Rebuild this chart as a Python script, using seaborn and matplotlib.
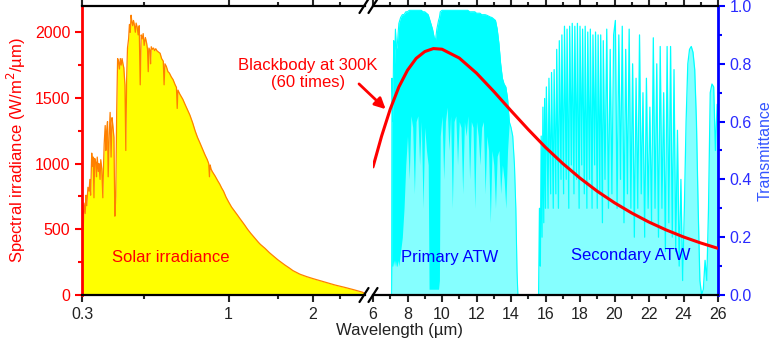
import matplotlib
matplotlib.use("Agg")
import matplotlib.pyplot as plt
from matplotlib.lines import Line2D
from matplotlib.ticker import FixedLocator, MultipleLocator, NullFormatter, FormatStrFormatter
import seaborn as sns

# solar spectrum (left, log x)
solar_wl = [0.300, 0.302, 0.303, 0.305, 0.308, 0.310, 0.312, 0.315, 0.318, 0.320,
            0.322, 0.325, 0.327, 0.329, 0.331, 0.333, 0.336, 0.338, 0.340, 0.343,
            0.345, 0.348, 0.350, 0.353, 0.356, 0.358, 0.360, 0.363, 0.365, 0.367,
            0.370, 0.372, 0.375, 0.378, 0.381, 0.384, 0.387, 0.390, 0.393, 0.396,
            0.399, 0.402, 0.405, 0.408, 0.411, 0.414, 0.417, 0.420, 0.423, 0.427,
            0.430, 0.433, 0.436, 0.440, 0.443, 0.446, 0.449, 0.452, 0.455, 0.458,
            0.461, 0.465, 0.468, 0.472, 0.476, 0.480, 0.484, 0.488, 0.492, 0.496,
            0.500, 0.505, 0.510, 0.514, 0.517, 0.520, 0.525, 0.527, 0.530, 0.535,
            0.540, 0.545, 0.550, 0.555, 0.562, 0.570, 0.577, 0.585, 0.589, 0.593,
            0.600, 0.608, 0.615, 0.625, 0.634, 0.645, 0.652, 0.656, 0.660, 0.670,
            0.687, 0.700, 0.714, 0.728, 0.745, 0.760, 0.775, 0.790, 0.808, 0.825,
            0.840, 0.850, 0.855, 0.860, 0.866, 0.875, 0.896, 0.915, 0.930, 0.945,
            0.960, 0.980, 1.000, 1.025, 1.050, 1.075, 1.100, 1.140, 1.170, 1.200,
            1.250, 1.280, 1.300, 1.350, 1.400, 1.450, 1.500, 1.550, 1.590, 1.650,
            1.700, 1.800, 1.900, 2.000, 2.100, 2.200, 2.300, 2.400, 2.600, 2.800,
            3.000, 3.070]
solar_irr = [560, 650, 500, 700, 620, 760, 680, 820, 790, 880,
             760, 1080, 980, 1050, 740, 1040, 1010, 900, 1050, 940,
             1000, 880, 1030, 960, 740, 980, 1150, 1290, 1100, 1240,
             1320, 900, 1200, 1390, 1050, 1350, 1280, 1200, 600, 750,
             1400, 1800, 1780, 1720, 1800, 1750, 1800, 1760, 1730, 1600,
             1100, 1650, 1880, 1950, 2060, 2000, 2130, 2080, 2050, 2090,
             2060, 2000, 2070, 2040, 1980, 2050, 1600, 1980, 1950, 1990,
             1900, 1960, 1920, 1870, 1700, 1880, 1860, 1760, 1890, 1870,
             1880, 1860, 1875, 1860, 1850, 1840, 1800, 1780, 1600, 1760,
             1740, 1700, 1690, 1660, 1640, 1600, 1580, 1420, 1560, 1530,
             1490, 1450, 1410, 1370, 1310, 1250, 1200, 1160, 1110, 1065,
             1030, 1000, 900, 990, 960, 940, 905, 870, 845, 815,
             790, 745, 710, 670, 640, 610, 580, 535, 500, 470,
             425, 400, 385, 355, 322, 295, 268, 245, 228, 205,
             185, 158, 140, 125, 112, 100, 88, 76, 58, 40,
             22, 12]

# atmospheric transmittance, primary window:
# upper envelope and lower edge of the dense band of absorption lines
prim_wl = [6.0, 7.0, 7.08, 7.1, 7.15, 7.2, 7.25, 7.3, 7.35, 7.4, 7.45, 7.5, 7.6, 7.7, 7.8, 7.9, 7.95,
           8.0, 8.1, 8.2, 8.3, 8.4, 8.5, 8.6, 8.7, 8.8, 8.9, 9.0, 9.1, 9.2,
           9.25, 9.35, 9.45, 9.55, 9.62, 9.7, 9.8, 9.85,
           9.9, 10.0, 10.1, 10.2, 10.3, 10.4, 10.5, 10.6, 10.7, 10.8, 10.9, 11.0, 11.1, 11.2, 11.3, 11.4, 11.5,
           11.6, 11.7, 11.8, 11.9, 12.0, 12.1, 12.2, 12.3, 12.4, 12.5, 12.6, 12.7, 12.8, 12.9,
           13.0, 13.1, 13.2, 13.3, 13.4, 13.5, 13.6, 13.7, 13.8, 13.9, 14.0, 14.1, 14.2, 14.28, 14.35, 14.4, 15.6]
prim_hi = [0, 0, 0, 0.75, 0.6, 0.88, 0.8, 0.92, 0.85, 0.86, 0.9, 0.94, 0.96, 0.97, 0.97, 0.98, 0.98,
           0.98, 0.985, 0.985, 0.985, 0.985, 0.985, 0.985, 0.985, 0.985, 0.98, 0.98, 0.975, 0.97,
           0.96, 0.94, 0.92, 0.89, 0.88, 0.92, 0.95, 0.96,
           0.98, 0.985, 0.985, 0.985, 0.985, 0.985, 0.985, 0.985, 0.985, 0.985, 0.985, 0.985, 0.985, 0.985, 0.985, 0.985, 0.985,
           0.98, 0.98, 0.98, 0.98, 0.975, 0.975, 0.975, 0.97, 0.97, 0.97, 0.968, 0.965, 0.962, 0.96,
           0.955, 0.95, 0.92, 0.87, 0.8, 0.75, 0.73, 0.72, 0.68, 0.6, 0.58, 0.55, 0.45, 0.3, 0.08, 0, 0]
prim_lo = [0, 0, 0, 0.1, 0.1, 0.12, 0.1, 0.12, 0.1, 0.1, 0.12, 0.1, 0.15, 0.2, 0.3, 0.45, 0.5,
           0.55, 0.4, 0.62, 0.58, 0.35, 0.6, 0.62, 0.45, 0.6, 0.3, 0.58, 0.5, 0.45,
           0.02, 0.02, 0.02, 0.02, 0.02, 0.02, 0.02, 0.05,
           0.55, 0.62, 0.4, 0.6, 0.65, 0.5, 0.62, 0.3, 0.6, 0.62, 0.45, 0.6, 0.58, 0.35, 0.6, 0.55, 0.62,
           0.4, 0.6, 0.58, 0.3, 0.6, 0.55, 0.45, 0.58, 0.6, 0.35, 0.55, 0.5, 0.25, 0.5,
           0.45, 0.3, 0.48, 0.5, 0.35, 0.45, 0.4, 0.3, 0.5, 0.6, 0.58, 0.55, 0.45, 0.3, 0.08, 0, 0]

# secondary window: individual absorption lines
sec_wl = [15.6, 15.65, 15.7, 15.75, 15.8, 15.85, 15.9, 15.95, 16.0, 16.05, 16.15,
          16.2, 16.3, 16.35, 16.45, 16.5, 16.6, 16.65, 16.75, 16.8, 16.9, 16.95,
          17.05, 17.1, 17.2, 17.25, 17.35, 17.4, 17.5, 17.55, 17.65, 17.7, 17.8,
          17.85, 17.95, 18.0, 18.1, 18.15, 18.25, 18.3, 18.4, 18.45, 18.55, 18.6,
          18.7, 18.75, 18.85, 18.9, 19.0, 19.05, 19.15, 19.2, 19.3, 19.35, 19.45,
          19.55, 19.65, 19.75, 19.85, 19.95, 20.05, 20.15, 20.25, 20.35, 20.45,
          20.55, 20.65, 20.75, 20.85, 20.95, 21.05, 21.15, 21.25, 21.35, 21.45,
          21.55, 21.65, 21.75, 21.85, 21.95, 22.05, 22.15, 22.25, 22.35, 22.45,
          22.55, 22.65, 22.75, 22.85, 22.95, 23.05, 23.15, 23.25, 23.35, 23.45,
          23.55, 23.65, 23.75, 23.85, 23.95, 24.05, 24.15, 24.25, 24.35, 24.45,
          24.55, 24.65, 24.75, 24.85, 24.95, 25.05, 25.15, 25.25, 25.35, 25.45,
          25.55, 25.65, 25.75, 25.85, 25.95, 26.0]
sec_val = [0.0, 0.3, 0.1, 0.55, 0.2, 0.65, 0.25, 0.68, 0.3, 0.72, 0.3,
           0.75, 0.35, 0.77, 0.3, 0.78, 0.35, 0.85, 0.3, 0.88, 0.4, 0.9,
           0.35, 0.93, 0.4, 0.92, 0.3, 0.93, 0.45, 0.94, 0.35, 0.93, 0.4,
           0.94, 0.3, 0.93, 0.45, 0.92, 0.35, 0.93, 0.3, 0.91, 0.4, 0.92,
           0.3, 0.9, 0.45, 0.91, 0.3, 0.9, 0.35, 0.9, 0.25, 0.88, 0.4,
           0.92, 0.3, 0.85, 0.35, 0.9, 0.95, 0.3, 0.9, 0.4, 0.93,
           0.25, 0.85, 0.35, 0.92, 0.3, 0.8, 0.2, 0.75, 0.3, 0.9,
           0.35, 0.7, 0.2, 0.75, 0.3, 0.65, 0.25, 0.89, 0.3, 0.8,
           0.2, 0.86, 0.3, 0.7, 0.15, 0.86, 0.25, 0.86, 0.2, 0.78,
           0.15, 0.57, 0.1, 0.4, 0.05, 0.3, 0.6, 0.8, 0.85, 0.86,
           0.84, 0.78, 0.6, 0.3, 0.05, 0.0, 0.02, 0.12, 0.05, 0.3,
           0.7, 0.73, 0.72, 0.5, 0.66, 0.62]

# blackbody at 300 K, x60, same units as left axis
bb_wl = [6, 6.5, 7, 7.5, 8, 8.5, 9, 9.5, 10, 11, 12, 13, 14, 15, 16,
         17, 18, 19, 20, 21, 22, 23, 24, 25, 26]
bb_irr = [975, 1210, 1415, 1584, 1711, 1801, 1853, 1876, 1871, 1804, 1689, 1550,
          1403, 1260, 1124, 1001, 890, 790, 702, 624, 555, 495, 442, 396, 355]

left_xticks = [0.3, 1, 2]
left_xticklabels = ["0.3", "1", "2"]
left_xminor = [0.5, 1.5, 2.5]
right_xticks = list(range(6, 27, 2))

sns.set_style("ticks")
plt.rcParams["font.family"] = ["Liberation Sans", "DejaVu Sans"]
plt.rcParams["axes.unicode_minus"] = False

W, H = 774, 349
fig = plt.figure(figsize=(W / 100, H / 100), dpi=100)


def fx(px):
    return px / W


def fy(py):
    return 1 - py / H


ax_bottom, ax_top = 295, 6
ax1 = fig.add_axes([fx(82), fy(ax_bottom), fx(365 - 82), (ax_bottom - ax_top) / H])
ax2 = fig.add_axes([fx(373), fy(ax_bottom), fx(718 - 373), (ax_bottom - ax_top) / H])

red = "#FF0000"
blue = "#0000FF"
cyan = "#00FFFF"
light_cyan = "#85FFFF"
tick_fs = 11.5

# left segment: solar irradiance
ax1.fill_between(solar_wl, solar_irr, color="#FFFF00", lw=0)
sns.lineplot(x=solar_wl, y=solar_irr, ax=ax1, color="#FF8000", lw=0.9)
ax1.set_xscale("log")
ax1.set_xlim(0.3, 3.07)
ax1.set_ylim(0, 2200)
ax1.xaxis.set_major_locator(FixedLocator(left_xticks))
ax1.set_xticklabels(left_xticklabels)
ax1.xaxis.set_minor_locator(FixedLocator(left_xminor))
ax1.xaxis.set_minor_formatter(NullFormatter())
ax1.yaxis.set_major_locator(MultipleLocator(500))
ax1.yaxis.set_minor_locator(MultipleLocator(250))
ax1.spines["right"].set_visible(False)
ax1.spines["left"].set_color(red)
ax1.spines["left"].set_linewidth(2)
for s in ("top", "bottom"):
    ax1.spines[s].set_linewidth(1.6)
    ax1.spines[s].set_color("black")
ax1.tick_params(axis="y", which="both", colors=red, labelsize=tick_fs, width=1.5)
ax1.tick_params(axis="y", which="major", length=5)
ax1.tick_params(axis="y", which="minor", length=3)
ax1.tick_params(axis="x", which="both", top=True, bottom=True, direction="out",
                labelsize=tick_fs, labelcolor="#222222", width=1.5)
ax1.tick_params(axis="x", which="major", length=5)
ax1.tick_params(axis="x", which="minor", length=3)
ax1.set_ylabel("Spectral irradiance (W/m$^2$/\u00b5m)", color=red, fontsize=12, labelpad=5)
ax1.set_xlabel("")
ax1.text(0.624, 289, "Solar irradiance", color=red, fontsize=12, ha="center", va="center")

# right segment: transmittance + blackbody
ax2.fill_between(prim_wl, prim_hi, color=light_cyan, lw=0)
ax2.fill_between(prim_wl, prim_lo, prim_hi, color=cyan, lw=0)
sns.lineplot(x=prim_wl, y=prim_hi, ax=ax2, color=cyan, lw=0.8)
ax2.fill_between(sec_wl, sec_val, color=light_cyan, lw=0)
sns.lineplot(x=sec_wl, y=sec_val, ax=ax2, color=cyan, lw=0.9)
ax2.set_xlim(6, 26)
ax2.set_ylim(0, 1.0)
ax2b = ax2.twinx()
sns.lineplot(x=bb_wl, y=bb_irr, ax=ax2b, color=red, lw=2.2)
ax2b.set_ylim(0, 2200)
ax2b.set_yticks([])
ax2b.set_ylabel("")
for s in ax2b.spines.values():
    s.set_visible(False)

ax2.yaxis.tick_right()
ax2.yaxis.set_label_position("right")
ax2.xaxis.set_major_locator(FixedLocator(right_xticks))
ax2.xaxis.set_minor_locator(MultipleLocator(1))
ax2.yaxis.set_major_locator(MultipleLocator(0.2))
ax2.yaxis.set_minor_locator(MultipleLocator(0.1))
ax2.yaxis.set_major_formatter(FormatStrFormatter("%.1f"))
ax2.spines["left"].set_visible(False)
ax2.spines["right"].set_color(blue)
ax2.spines["right"].set_linewidth(2)
for s in ("top", "bottom"):
    ax2.spines[s].set_linewidth(1.6)
    ax2.spines[s].set_color("black")
ax2.tick_params(axis="y", which="both", left=False, right=True, colors=blue,
                labelsize=tick_fs, width=1.5, labelcolor="#2a2aff")
ax2.tick_params(axis="y", which="major", length=5)
ax2.tick_params(axis="y", which="minor", length=3)
ax2.tick_params(axis="x", which="both", top=True, bottom=True, direction="out",
                labelsize=tick_fs, labelcolor="#222222", width=1.5)
ax2.tick_params(axis="x", which="major", length=5)
ax2.tick_params(axis="x", which="minor", length=3)
ax2.set_ylabel("Transmittance", color="#3355ff", fontsize=11.5, labelpad=4)
ax2.set_xlabel("")
ax2.text(10.45, 0.131, "Primary ATW", color=blue, fontsize=12, ha="center", va="center")
ax2.text(20.96, 0.135, "Secondary ATW", color=blue, fontsize=12, ha="center", va="center")

# annotation for blackbody
ax2b.annotate("", xy=(6.85, 1400), xycoords="data",
              xytext=(357, H - 82), textcoords="figure pixels",
              arrowprops=dict(arrowstyle="-|>", color=red, lw=2, mutation_scale=16),
              annotation_clip=False)
fig.text(fx(308), fy(74), "Blackbody at 300K\n(60 times)", color=red, fontsize=12,
         ha="center", va="center", linespacing=1.1)

fig.text(fx(400), fy(330), "Wavelength (\u00b5m)", color="#222222", fontsize=12,
         ha="center", va="center")

# axis-break marks
for cx in (364, 373):
    for cy in (ax_top, ax_bottom):
        fig.add_artist(Line2D([fx(cx - 4.5), fx(cx + 4.5)], [fy(cy + 7), fy(cy - 7)],
                              color="black", lw=1.6))

fig.savefig("out.png", dpi=100)
